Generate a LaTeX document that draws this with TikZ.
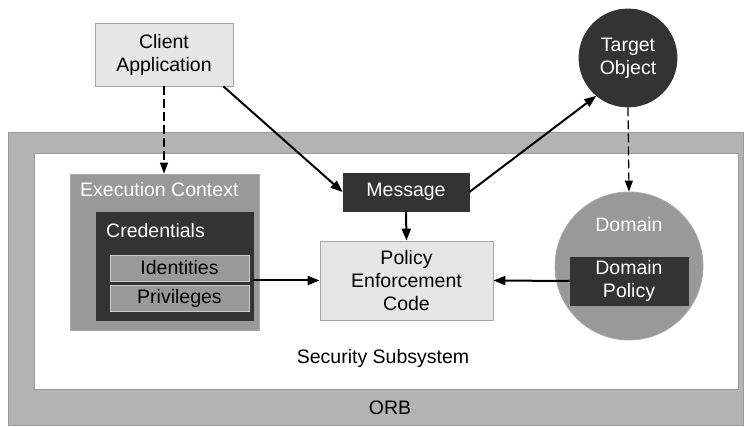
\documentclass[tikz,border=0pt]{standalone}
\usepackage{fontspec}
\setmainfont{Liberation Sans}
\usetikzlibrary{arrows.meta}
\definecolor{orbgray}{HTML}{B3B3B3}
\definecolor{orbedge}{HTML}{9A9A9A}
\definecolor{lightfill}{HTML}{E6E6E6}
\definecolor{lightedge}{HTML}{A6A6A6}
\definecolor{midfill}{HTML}{999999}
\definecolor{midedge}{HTML}{AAAAAA}
\definecolor{darkfill}{HTML}{333333}
\begin{document}
\begin{tikzpicture}[x=1pt,y=-1pt,
  every node/.style={font=\fontsize{19.5}{23}\selectfont, inner sep=0pt, align=center},
  lightbox/.style={draw=lightedge, fill=lightfill, line width=0.8pt},
  midbox/.style={draw=midedge, fill=midfill, line width=0.8pt},
  darkbox/.style={draw=darkfill, fill=darkfill, text=white, line width=0.8pt},
  identbox/.style={draw=midedge!60!white, fill=midfill, line width=0.8pt},
  arr/.style={line width=2pt, -{Triangle[length=12pt,width=9pt]}},
  darr/.style={line width=1.2pt, dash pattern=on 9pt off 4pt, -{Triangle[length=11pt,width=8pt]}},
  sz/.style 2 args={minimum width=#1pt, minimum height=#2pt}]
\useasboundingbox (0,0) rectangle (745,427);
% ORB and security subsystem
\node[draw=orbedge, fill=orbgray, line width=0.8pt, sz={735}{293}] (orb) at (375.5,278.5) {};
\node[draw=orbedge, fill=white, line width=0.8pt, sz={704}{236}] (sec) at (386,271) {};
\node (orblabel) at (390,408) {ORB};
\node (seclabel) at (383,358) {Security Subsystem};
% client
\node[lightbox, sz={138}{63}] (client) at (164,54.5) {Client\\Application};
% execution context
\node[midbox, sz={189}{156}] (exec) at (164.5,252) {};
\node[anchor=west, text=white] (execlabel) at (80,190) {Execution Context};
\node[darkbox, sz={157}{108}] (cred) at (174.5,266) {};
\node[anchor=west, text=white] (credlabel) at (106,231) {Credentials};
\node[identbox, sz={139}{26}] (ident) at (179.5,268) {Identities};
\node[identbox, sz={139}{26}] (priv) at (179.5,298) {Privileges};
% policy enforcement
\node[lightbox, sz={173}{79}] (policy) at (406.5,280.5) {Policy\\Enforcement\\Code};
\node[darkbox, sz={126}{38}] (message) at (406,192) {Message};
% target and domain
\node[circle, darkbox, minimum size=98pt] (target) at (628,58) {Target\\Object};
\node[circle, midbox, minimum size=148pt] (domain) at (629,266) {};
\node[text=white] (domainlabel) at (629,225) {Domain};
\node[darkbox, sz={118}{48}] (dpolicy) at (629,281) {Domain\\Policy};
% connectors
\draw[darr] (client.south) -- (client.south |- exec.north);
\draw[arr] ([xshift=-10pt]client.south east) -- (message.west);
\draw[arr] (message.east) -- (target.230);
\draw[darr] (target.south) -- (domain.north);
\draw[arr] (message.south) -- (policy.north);
\draw[arr] (cred.east |- policy.west) -- (policy.west);
\draw[arr] (dpolicy.west) -- (policy.east);
\end{tikzpicture}
\end{document}
